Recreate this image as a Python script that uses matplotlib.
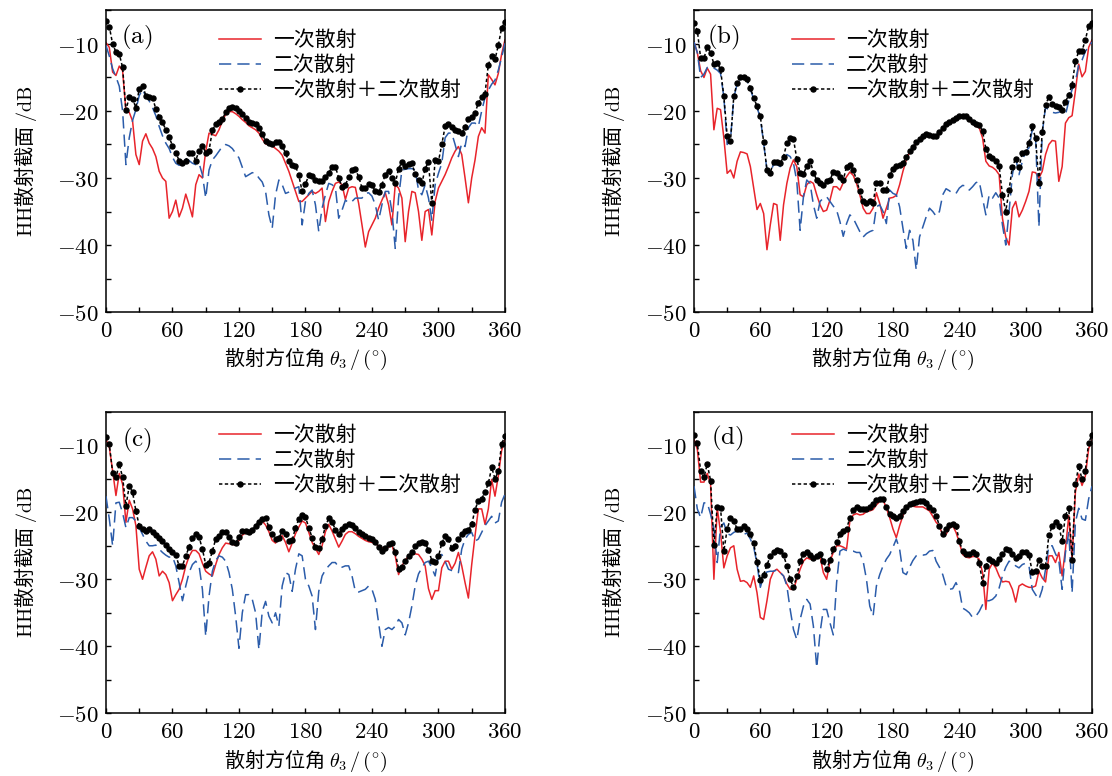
import numpy as np
import matplotlib
matplotlib.use("Agg")
import matplotlib.pyplot as plt
from matplotlib.ticker import MultipleLocator, FuncFormatter

plt.rcParams["font.family"] = ["Noto Sans CJK SC", "DejaVu Sans"]
plt.rcParams["mathtext.fontset"] = "cm"

# scattering azimuth, degrees (3-degree sampling)
theta = list(range(0, 361, 3))

legend_labels = ["一次散射", "二次散射", "一次散射＋二次散射"]
panel_tags = ["a", "b", "c", "d"]

# ---- panel (a) ----
a_single = [-9.8, -10.5, -14.2, -14.7, -13.3, -14.0, -20.0, -20.2, -21.5, -26.5,
            -28.0, -24.5, -23.4, -24.8, -25.6, -26.8, -29.0, -30.0, -30.5, -36.0,
            -35.0, -33.3, -35.8, -34.5, -32.4, -34.0, -35.8, -31.0, -29.5, -30.0,
            -26.0, -23.3, -23.5, -23.7, -22.8, -21.5, -20.5, -20.1, -20.1, -20.4,
            -20.8, -21.3, -21.7, -22.2, -22.5, -22.8, -23.3, -24.2, -24.9, -25.0,
            -25.2, -25.6, -26.0, -26.6, -27.8, -29.0, -30.5, -32.0, -33.5, -33.5,
            -33.0, -32.5, -32.0, -32.3, -32.0, -31.5, -36.5, -33.5, -32.0, -30.8,
            -30.6, -31.0, -33.2, -31.5, -31.3, -31.4, -33.8, -37.0, -40.3, -38.0,
            -37.0, -36.0, -34.5, -33.3, -32.2, -34.0, -37.0, -31.0, -31.5, -33.0,
            -39.5, -35.0, -32.0, -32.2, -35.0, -39.3, -35.0, -34.7, -38.5, -33.5,
            -31.5, -30.5, -29.5, -28.3, -27.0, -26.0, -25.3, -26.5, -30.0, -33.7,
            -30.0, -27.3, -23.8, -22.5, -23.3, -14.6, -15.3, -16.1, -14.4, -11.5,
            -9.4]
a_double = [-10.2, -11.8, -13.7, -14.9, -16.3, -20.0, -28.0, -24.0, -21.4, -19.8,
            -17.7, -16.8, -17.8, -18.5, -19.5, -20.7, -22.3, -23.7, -24.8, -25.6,
            -26.9, -27.8, -28.1, -28.0, -27.2, -27.4, -27.8, -28.0, -27.8, -29.5,
            -33.0, -28.8, -27.3, -26.7, -26.0, -25.3, -25.0, -25.2, -25.6, -26.3,
            -27.0, -28.4, -29.8, -29.5, -29.2, -29.3, -30.0, -30.6, -32.0, -35.5,
            -37.5, -32.5, -30.3, -31.0, -32.3, -32.1, -31.8, -31.5, -31.3, -37.0,
            -33.5, -32.3, -31.8, -34.0, -38.0, -34.5, -32.5, -30.8, -31.0, -31.4,
            -36.0, -34.8, -33.3, -33.7, -33.5, -33.0, -33.0, -33.0, -32.3, -32.2,
            -32.7, -34.0, -36.3, -34.0, -32.0, -32.0, -35.0, -40.5, -33.0, -28.8,
            -28.7, -28.6, -28.6, -28.8, -31.8, -32.5, -31.0, -33.0, -36.3, -31.0,
            -29.3, -27.8, -24.0, -23.3, -23.3, -25.0, -26.8, -24.8, -25.3, -22.5,
            -21.8, -21.8, -22.3, -20.0, -18.0, -16.9, -16.0, -15.4, -13.9, -12.0,
            -9.9]
a_total = [-6.5, -7.4, -10.0, -11.2, -11.5, -13.5, -19.9, -17.9, -18.2, -19.5,
           -16.7, -16.2, -17.7, -17.9, -18.0, -19.7, -20.9, -21.7, -22.8, -23.9,
           -25.2, -26.2, -27.4, -27.7, -27.4, -26.2, -26.3, -27.4, -25.9, -25.2,
           -26.2, -25.9, -22.9, -21.9, -21.7, -21.2, -20.2, -19.6, -19.4, -19.5,
           -20.0, -20.5, -21.1, -21.7, -21.8, -22.0, -22.5, -23.4, -24.5, -24.8,
           -24.9, -24.6, -24.6, -25.2, -26.3, -27.5, -28.0, -28.2, -29.6, -32.0,
           -30.9, -29.6, -29.7, -30.3, -30.5, -30.5, -29.9, -29.2, -28.4, -28.3,
           -30.0, -31.3, -31.1, -29.8, -28.8, -28.7, -29.8, -31.5, -31.5, -30.9,
           -31.0, -32.0, -32.1, -31.0, -29.5, -28.9, -30.0, -30.8, -28.6, -27.6,
           -28.2, -27.9, -27.8, -29.4, -30.3, -30.8, -28.6, -27.6, -33.8, -27.3,
           -27.5, -25.0, -22.3, -22.0, -22.4, -22.8, -23.0, -23.3, -22.4, -21.2,
           -20.9, -20.3, -18.8, -17.9, -17.4, -13.1, -11.8, -12.3, -10.2, -7.6,
           -6.7]

# ---- panel (b) ----
b_single = [-9.7, -11.3, -14.0, -15.0, -13.6, -14.5, -22.8, -19.6, -19.8, -24.0,
            -29.3, -28.8, -30.0, -27.5, -26.1, -26.2, -26.4, -28.3, -31.5, -34.7,
            -33.8, -35.3, -40.7, -37.0, -33.8, -34.0, -39.3, -34.0, -30.8, -28.5,
            -27.3, -28.3, -32.5, -32.8, -31.0, -30.5, -30.8, -32.5, -34.0, -35.0,
            -34.8, -33.3, -31.3, -31.3, -31.8, -30.7, -29.8, -29.1, -29.6, -30.8,
            -32.5, -34.5, -35.3, -35.3, -34.5, -32.2, -33.8, -36.0, -34.5, -33.0,
            -32.9, -32.6, -31.0, -29.0, -27.3, -26.2, -25.5, -24.9, -24.4, -23.9,
            -23.6, -23.8, -24.0, -23.9, -23.4, -22.7, -22.2, -21.9, -21.5, -21.2,
            -21.0, -20.9, -21.0, -21.4, -21.9, -22.3, -22.5, -24.0, -27.5, -28.2,
            -28.4, -28.8, -29.5, -36.0, -38.8, -40.0, -34.5, -33.5, -35.8, -34.8,
            -33.5, -32.0, -29.1, -29.2, -30.0, -29.0, -26.5, -25.0, -24.4, -24.5,
            -30.5, -28.3, -21.8, -21.0, -20.7, -17.0, -13.0, -14.9, -14.1, -10.5,
            -9.4]
b_double = [-9.7, -11.3, -15.0, -14.5, -13.5, -13.4, -13.6, -13.9, -14.4, -17.9,
            -25.0, -24.3, -18.0, -16.0, -15.2, -15.1, -15.5, -16.8, -18.2, -19.5,
            -21.0, -24.8, -28.8, -29.1, -28.0, -28.0, -28.3, -27.5, -26.5, -26.8,
            -27.8, -30.5, -37.8, -32.8, -30.3, -30.8, -34.0, -36.0, -33.5, -33.0,
            -32.8, -33.5, -34.2, -34.8, -36.5, -38.7, -36.8, -35.5, -36.0, -37.0,
            -38.0, -38.8, -38.3, -38.0, -37.8, -34.3, -34.0, -35.0, -36.8, -31.8,
            -32.3, -32.5, -34.3, -37.5, -40.5, -37.8, -39.3, -43.7, -38.8, -37.3,
            -35.8, -34.5, -35.0, -35.7, -35.0, -32.5, -31.6, -31.9, -32.3, -32.3,
            -31.5, -31.1, -31.2, -31.8, -31.3, -30.7, -30.5, -33.0, -35.5, -32.5,
            -33.0, -32.2, -33.0, -37.0, -40.0, -35.0, -29.5, -27.0, -29.5, -27.5,
            -26.0, -25.5, -22.8, -24.0, -37.3, -23.3, -19.4, -19.9, -20.2, -20.3,
            -20.2, -19.9, -20.6, -18.5, -16.8, -15.6, -13.1, -12.4, -11.1, -10.4,
            -9.7]
b_total = [-6.8, -8.0, -12.1, -12.1, -10.5, -11.3, -13.0, -12.8, -13.8, -17.8,
           -23.7, -24.5, -17.8, -15.8, -15.0, -14.9, -15.3, -16.6, -18.0, -19.3,
           -20.8, -24.6, -28.8, -29.2, -27.6, -27.6, -27.8, -26.8, -24.8, -24.1,
           -24.2, -27.2, -29.3, -29.4, -28.2, -27.4, -29.2, -30.3, -30.7, -31.0,
           -30.5, -30.3, -29.1, -29.2, -29.8, -30.3, -28.3, -28.1, -28.8, -30.3,
           -32.0, -33.4, -33.8, -33.5, -33.7, -30.7, -30.8, -31.8, -31.8, -29.6,
           -28.6, -28.2, -28.1, -27.8, -26.9, -26.0, -25.3, -24.7, -24.2, -23.7,
           -23.4, -23.6, -23.8, -23.7, -23.2, -22.5, -22.0, -21.7, -21.3, -21.0,
           -20.8, -20.7, -20.8, -21.2, -21.7, -22.0, -22.1, -23.0, -25.6, -26.7,
           -27.0, -27.4, -28.2, -32.5, -35.0, -31.8, -28.3, -27.1, -28.3, -26.3,
           -26.1, -24.8, -22.3, -24.1, -30.8, -23.1, -19.1, -17.9, -18.9, -19.3,
           -19.4, -19.9, -18.6, -17.6, -16.1, -12.6, -11.1, -11.0, -9.4, -7.3,
           -6.8]

# ---- panel (c) ----
c_single = [-9.1, -10.3, -13.8, -17.5, -14.2, -15.8, -21.5, -18.2, -19.5, -22.0,
            -28.5, -30.0, -28.2, -26.5, -25.9, -27.0, -29.5, -28.8, -29.3, -30.5,
            -33.2, -32.3, -31.5, -30.0, -28.0, -26.6, -25.7, -25.7, -26.2, -27.6,
            -28.8, -29.2, -29.5, -27.8, -26.3, -25.3, -24.6, -24.7, -24.8, -24.9,
            -24.2, -23.4, -23.1, -23.2, -22.9, -22.2, -21.6, -21.3, -21.9, -22.9,
            -24.2, -24.6, -23.8, -23.5, -24.5, -25.9, -24.6, -23.2, -22.2, -21.3,
            -21.6, -23.0, -24.5, -25.4, -26.3, -25.0, -22.9, -21.8, -22.8, -24.0,
            -25.2, -24.3, -23.3, -22.9, -22.9, -23.2, -23.6, -23.9, -24.2, -24.4,
            -24.5, -24.7, -25.0, -25.3, -25.3, -25.2, -24.9, -26.5, -29.3, -28.0,
            -27.2, -26.5, -26.3, -26.2, -26.3, -27.0, -28.0, -31.4, -33.0, -31.7,
            -31.7, -28.3, -27.3, -27.3, -28.5, -27.6, -26.0, -28.0, -30.5, -32.8,
            -27.8, -23.5, -19.5, -19.5, -21.8, -19.5, -15.1, -17.6, -14.6, -10.8,
            -9.1]
c_double = [-17.6, -21.0, -25.0, -18.6, -18.5, -20.1, -22.3, -20.8, -20.8, -21.3,
            -22.3, -23.3, -24.3, -25.0, -25.0, -24.9, -25.5, -26.0, -26.4, -26.7,
            -26.6, -28.0, -30.5, -33.2, -31.0, -29.0, -27.8, -27.3, -28.0, -31.5,
            -38.5, -32.5, -28.8, -27.2, -26.5, -26.7, -27.3, -29.0, -31.5, -35.5,
            -40.3, -35.0, -32.3, -32.3, -33.0, -35.0, -40.5, -34.8, -33.3, -35.5,
            -36.5, -35.0, -37.0, -31.0, -29.0, -29.3, -31.8, -28.5, -26.2, -26.5,
            -30.0, -31.0, -32.5, -37.5, -31.8, -29.5, -28.6, -28.0, -27.5, -27.5,
            -28.2, -28.2, -28.0, -28.0, -29.5, -31.8, -31.9, -31.7, -31.5, -31.0,
            -31.5, -33.0, -36.5, -40.0, -37.5, -37.2, -37.5, -37.0, -36.0, -36.5,
            -38.3, -36.5, -34.0, -31.0, -29.2, -28.3, -27.5, -27.3, -28.3, -29.5,
            -26.5, -26.3, -27.3, -28.5, -28.7, -28.9, -29.0, -25.5, -24.0, -23.3,
            -23.0, -24.3, -24.0, -23.0, -22.0, -21.3, -20.6, -21.6, -21.3, -18.5,
            -17.3]
c_total = [-8.7, -9.8, -14.1, -14.8, -12.8, -14.8, -19.0, -16.1, -17.0, -19.8,
           -22.0, -22.5, -22.8, -22.5, -23.0, -23.4, -23.8, -24.3, -24.9, -25.5,
           -25.9, -26.4, -28.0, -28.0, -26.5, -25.2, -23.8, -23.3, -23.7, -25.5,
           -27.8, -27.5, -25.8, -24.0, -23.6, -23.0, -23.0, -23.7, -24.5, -24.6,
           -23.7, -22.8, -22.8, -22.9, -22.6, -22.0, -21.4, -21.0, -20.9, -22.2,
           -23.3, -24.0, -23.9, -22.8, -23.3, -24.3, -24.2, -22.3, -21.0, -20.4,
           -20.7, -22.3, -23.8, -25.2, -25.3, -24.0, -22.1, -20.9, -21.4, -22.6,
           -23.2, -22.5, -22.0, -21.8, -21.9, -22.4, -22.9, -23.3, -23.6, -23.8,
           -24.0, -24.4, -25.2, -25.8, -25.4, -24.8, -24.6, -26.0, -28.4, -28.1,
           -27.3, -26.6, -26.0, -25.1, -24.6, -24.4, -24.6, -25.6, -27.2, -27.4,
           -26.6, -24.6, -23.6, -24.0, -25.3, -25.0, -24.0, -23.2, -22.8, -22.6,
           -21.8, -19.6, -18.3, -18.0, -17.0, -15.7, -13.3, -15.0, -13.9, -9.8,
           -8.6]

# ---- panel (d) ----
d_single = [-9.1, -10.6, -15.5, -15.5, -14.2, -15.8, -30.0, -19.3, -23.0, -28.3,
            -26.5, -25.3, -25.0, -28.5, -30.3, -30.2, -30.5, -31.2, -29.5, -32.0,
            -35.7, -36.0, -33.2, -30.0, -28.8, -28.5, -29.0, -29.5, -30.7, -31.5,
            -31.5, -30.0, -28.5, -27.3, -26.8, -27.0, -27.0, -26.8, -26.6, -29.0,
            -30.0, -27.3, -26.0, -25.0, -25.0, -25.2, -25.5, -21.3, -20.4, -20.2,
            -20.4, -20.3, -19.9, -19.8, -19.6, -18.9, -18.4, -18.1, -19.4, -20.8,
            -22.5, -23.8, -22.0, -20.5, -19.2, -19.1, -19.1, -19.2, -19.2, -19.2,
            -19.5, -19.8, -20.6, -21.5, -22.0, -23.5, -23.3, -22.4, -22.0, -23.0,
            -24.5, -26.3, -26.7, -26.8, -26.6, -26.6, -27.0, -29.0, -34.5, -28.5,
            -27.6, -28.3, -29.5, -30.4, -30.3, -30.4, -31.5, -33.4, -31.0, -30.7,
            -31.0, -31.2, -31.2, -31.0, -28.8, -29.8, -30.4, -26.5, -26.5, -27.5,
            -26.0, -29.5, -25.5, -20.5, -27.0, -17.0, -14.3, -16.0, -14.6, -10.5,
            -9.2]
d_double = [-16.1, -19.5, -20.8, -18.6, -18.6, -20.3, -22.5, -27.5, -22.2, -21.6,
            -23.2, -23.4, -23.0, -22.8, -23.0, -23.3, -23.1, -24.0, -25.2, -27.7,
            -31.2, -29.5, -28.9, -28.8, -28.8, -28.6, -29.0, -29.5, -31.0, -34.5,
            -37.5, -39.0, -36.0, -34.0, -33.0, -33.7, -37.0, -43.2, -38.0, -34.5,
            -34.5, -36.5, -38.3, -30.5, -25.8, -25.5, -25.7, -25.8, -25.8, -26.0,
            -26.0, -27.3, -30.0, -34.0, -35.5, -31.0, -29.3, -28.0, -27.0, -26.3,
            -25.2, -24.0, -25.5, -29.0, -29.3, -28.2, -27.2, -26.5, -26.4, -26.4,
            -26.3, -25.8, -25.7, -27.3, -28.2, -29.3, -31.0, -31.5, -31.4, -30.5,
            -31.6, -34.3, -34.6, -35.0, -35.7, -35.5, -34.8, -33.8, -33.2, -33.2,
            -33.0, -32.5, -31.3, -29.5, -28.2, -27.3, -27.5, -28.0, -28.3, -27.8,
            -27.6, -28.0, -31.5, -32.3, -33.0, -31.5, -28.5, -25.0, -25.0, -26.2,
            -27.2, -31.5, -26.0, -23.0, -32.0, -21.5, -19.4, -21.0, -21.2, -18.0,
            -16.1]
d_total = [-8.5, -9.7, -13.8, -14.8, -12.8, -15.3, -24.9, -19.2, -19.3, -25.8,
           -22.5, -20.9, -21.3, -22.5, -22.5, -22.1, -22.5, -23.3, -24.6, -27.4,
           -30.1, -29.3, -27.9, -26.5, -26.0, -25.7, -25.8, -26.4, -28.0, -30.0,
           -31.2, -29.5, -27.3, -26.3, -26.0, -26.4, -26.8, -26.5, -26.3, -27.3,
           -28.5, -27.1, -25.5, -24.5, -23.3, -22.8, -22.5, -20.8, -19.6, -19.2,
           -19.5, -19.5, -19.5, -19.2, -18.8, -18.1, -18.0, -18.0, -19.2, -20.2,
           -20.6, -20.9, -20.5, -19.8, -19.2, -18.8, -18.6, -18.5, -18.3, -18.3,
           -18.6, -19.2, -19.7, -20.5, -22.0, -23.3, -22.5, -21.9, -21.8, -22.0,
           -24.3, -25.8, -26.3, -26.3, -26.0, -26.3, -27.5, -30.5, -28.0, -27.0,
           -27.3, -27.5, -27.0, -26.3, -25.5, -25.7, -26.3, -26.8, -26.5, -26.0,
           -26.0, -26.4, -28.9, -28.8, -27.1, -28.0, -28.0, -23.4, -22.1, -21.4,
           -22.0, -24.3, -20.5, -19.3, -27.1, -15.8, -13.1, -15.1, -13.8, -9.6,
           -8.5]

series = {
    "a": (a_single, a_double, a_total),
    "b": (b_single, b_double, b_total),
    "c": (c_single, c_double, c_total),
    "d": (d_single, d_double, d_total),
}

x_ticks = [0, 60, 120, 180, 240, 300, 360]
y_ticks = [-50, -40, -30, -20, -10]

# figure-fraction axes rectangles
rects = {
    "a": [0.0953, 0.5979, 0.3588, 0.3886],
    "b": [0.6241, 0.5979, 0.3579, 0.3886],
    "c": [0.0953, 0.0808, 0.3588, 0.3886],
    "d": [0.6241, 0.0808, 0.3579, 0.3886],
}
legend_anchor = {
    "a": (0.283, 0.939),
    "b": (0.246, 0.939),
    "c": (0.283, 0.960),
    "d": (0.246, 0.960),
}
tag_pos = {"a": (0.078, 0.910), "b": (0.075, 0.910),
           "c": (0.078, 0.904), "d": (0.083, 0.910)}

RED = "#e8242b"
BLUE = "#2b5caa"

fig = plt.figure(figsize=(11.12, 7.76), dpi=100)
num_fmt = FuncFormatter(lambda v, p: f"${v:.0f}$")

for tag in panel_tags:
    single, double, total = series[tag]
    ax = fig.add_axes(rects[tag])
    ax.plot(theta, single, color=RED, lw=1.1, label=legend_labels[0], zorder=2)
    ax.plot(theta, double, color=BLUE, lw=1.1, dashes=(8, 4),
            label=legend_labels[1], zorder=3)
    ax.plot(theta, total, color="black", lw=1.1, dashes=(2.2, 1.6),
            marker="o", markersize=3.6, label=legend_labels[2], zorder=4)

    ax.set_xlim(0, 360)
    ax.set_ylim(-50, -5)
    ax.set_xticks(x_ticks)
    ax.xaxis.set_minor_locator(MultipleLocator(30))
    ax.set_yticks(y_ticks)
    ax.yaxis.set_minor_locator(MultipleLocator(5))
    ax.xaxis.set_major_formatter(num_fmt)
    ax.yaxis.set_major_formatter(num_fmt)
    ax.tick_params(which="both", direction="in", length=3.5, width=1.0,
                   top=False, right=False, labelsize=16.5, pad=5)
    for sp in ax.spines.values():
        sp.set_linewidth(1.1)

    ax.set_xlabel(r"散射方位角 $\theta_3\,/\,(^{\circ})$", fontsize=14.5, labelpad=3)
    ax.set_ylabel(r"$\mathrm{HH}$散射截面 $/\mathrm{dB}$", fontsize=14.5, labelpad=13)

    ax.text(*tag_pos[tag], rf"$(\mathrm{{{tag}}})$", transform=ax.transAxes,
            fontsize=18, ha="center", va="center")

    ax.legend(loc="upper left", bbox_to_anchor=legend_anchor[tag], frameon=False,
              fontsize=15, handlelength=2.0, handletextpad=0.6, labelspacing=0.15,
              borderpad=0, borderaxespad=0)

fig.savefig("out.png", dpi=100)
